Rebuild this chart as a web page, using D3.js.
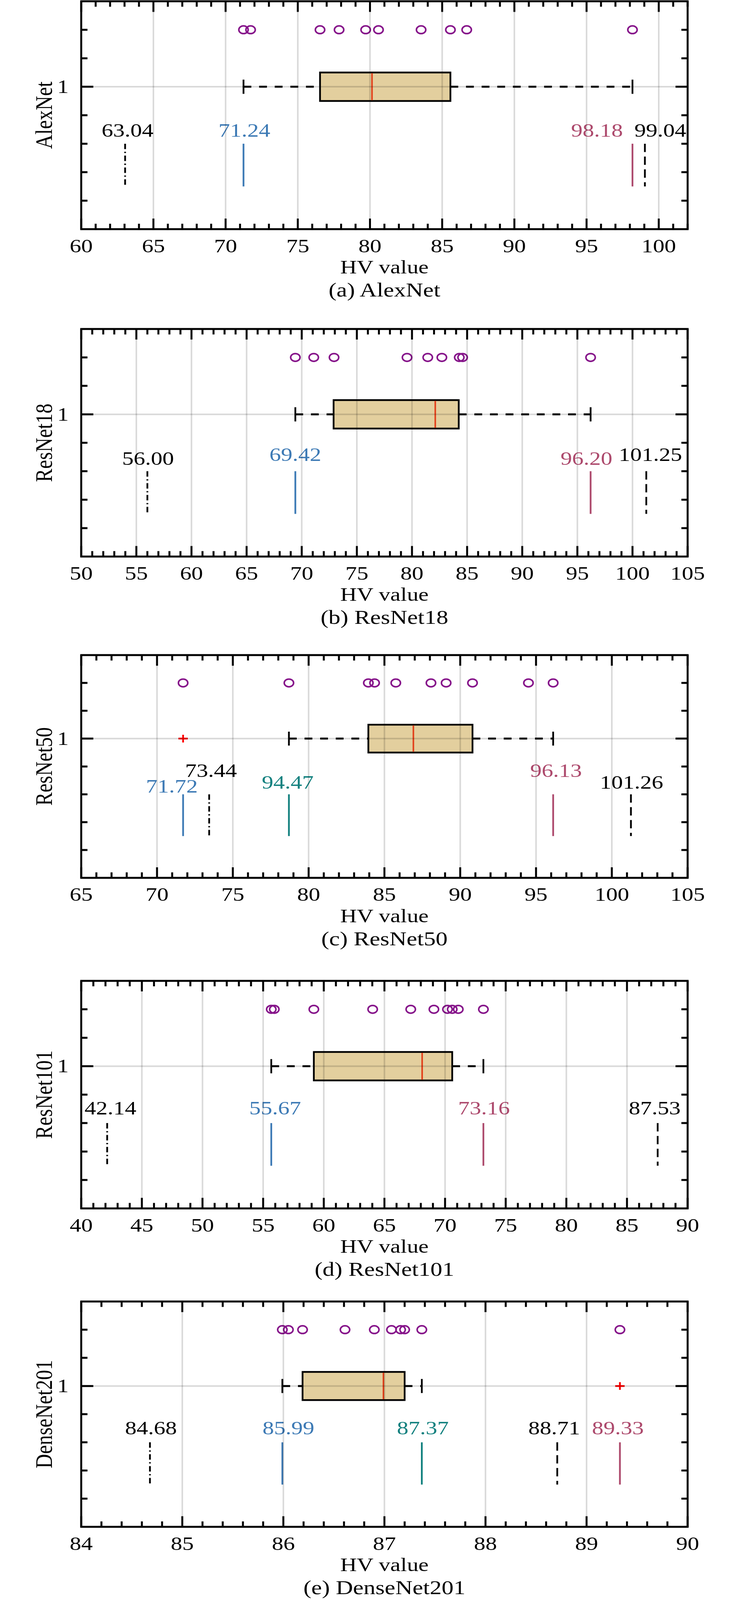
<!DOCTYPE html>
<html>
<head>
<meta charset="utf-8">
<script src="https://cdn.jsdelivr.net/npm/d3@7"></script>
<style>
  html, body { margin: 0; padding: 0; background: #fff; overflow: hidden; }
  svg { display: block; }
</style>
</head>
<body>
<script>
// ---------------- DATA ----------------
const models   = ["AlexNet", "ResNet18", "ResNet50", "ResNet101", "DenseNet201"];
const captions = ["(a) AlexNet", "(b) ResNet18", "(c) ResNet50", "(d) ResNet101", "(e) DenseNet201"];

const xDomains = [[60, 102], [50, 105], [65, 105], [40, 90], [84, 90]];
const xTicks = [
  [60, 65, 70, 75, 80, 85, 90, 95, 100],
  [50, 55, 60, 65, 70, 75, 80, 85, 90, 95, 100, 105],
  [65, 70, 75, 80, 85, 90, 95, 100, 105],
  [40, 45, 50, 55, 60, 65, 70, 75, 80, 85, 90],
  [84, 85, 86, 87, 88, 89, 90]
];
const minorSteps = [1, 1, 1, 1, 0.2];
const yTickValues = [0.6, 0.7, 0.8, 0.9, 1.0, 1.1, 1.2];
const yTickLabels = ["1"];

// individual runs (circles)
const runsAlexNet   = [71.24, 71.73, 76.54, 77.86, 79.70, 80.59, 83.54, 85.57, 86.70, 98.18];
const runsResNet18  = [69.42, 71.09, 72.93, 79.55, 81.43, 82.71, 84.29, 84.59, 96.20];
const runsResNet50  = [71.72, 78.70, 83.94, 84.35, 85.75, 88.07, 89.07, 90.81, 94.50, 96.13];
const runsResNet101 = [55.67, 55.92, 59.18, 64.03, 67.17, 69.08, 70.20, 70.59, 71.09, 73.16];
const runsDense201  = [85.99, 86.05, 86.19, 86.61, 86.90, 87.07, 87.16, 87.20, 87.37, 89.33];
const runs = [runsAlexNet, runsResNet18, runsResNet50, runsResNet101, runsDense201];

// box statistics
const q1s      = [76.54, 72.89, 83.94, 59.18, 86.19];
const medians  = [80.14, 82.11, 86.91, 68.11, 86.99];
const q3s      = [85.57, 84.24, 90.81, 70.59, 87.20];
const whiskLo  = [71.24, 69.42, 78.70, 55.67, 85.99];
const whiskHi  = [98.18, 96.20, 96.13, 73.16, 87.37];
const outliers = [[], [], [71.72], [], [89.33]];

// reference lines
const refValues = [
  [63.04, 71.24, 98.18, 99.04],
  [56.00, 69.42, 96.20, 101.25],
  [71.72, 73.44, 78.70, 96.13, 101.26],
  [42.14, 55.67, 73.16, 87.53],
  [84.68, 85.99, 87.37, 88.71, 89.33]
];
const refTexts = [
  ["63.04", "71.24", "98.18", "99.04"],
  ["56.00", "69.42", "96.20", "101.25"],
  ["71.72", "73.44", "94.47", "96.13", "101.26"],
  ["42.14", "55.67", "73.16", "87.53"],
  ["84.68", "85.99", "87.37", "88.71", "89.33"]
];
const refKinds = [
  ["dashdot", "blue", "pink", "dashed"],
  ["dashdot", "blue", "pink", "dashed"],
  ["blue", "dashdot", "teal", "pink", "dashed"],
  ["dashdot", "blue", "pink", "dashed"],
  ["dashdot", "blue", "teal", "dashed", "pink"]
];
// label anchor positions (data units)
const refLabelX = [
  [63.21, 71.30, 95.72, 100.11],
  [56.06, 69.42, 95.82, 101.62],
  [70.98, 73.56, 78.62, 96.32, 101.30],
  [42.41, 55.99, 73.21, 87.28],
  [84.69, 86.05, 87.38, 88.68, 89.31]
];
const refLabelY = [
  [0.824, 0.824, 0.824, 0.824],
  [0.822, 0.836, 0.822, 0.836],
  [0.806, 0.863, 0.820, 0.863, 0.820],
  [0.831, 0.831, 0.831, 0.831],
  [0.828, 0.828, 0.828, 0.828, 0.828]
];

// ---------------- STYLE / LAYOUT ----------------
// The browser photographs at most 4096 px in height; the reference layout
// (4985 px tall) is mapped vertically into that height.
const W = 1890, REF_H = 4985;
const H = Math.min(window.innerHeight || 4096, REF_H);
const SY = H / REF_H;
const FONT = "'Liberation Serif','Times New Roman',Times,serif";
const FS = 59;            // main font size
const FS_TITLE = 62;      // rotated y title
const panelTops    = [4, 1025, 2041, 3056, 4055];
const panelHeights = [710, 709, 694, 709, 702];
const left = 208, right = 1761;

const kindStyle = {
  dashdot: { color: "#000000", dash: [17, 8, 4, 8] },
  dashed:  { color: "#000000", dash: [26, 14] },
  blue:    { color: "#3d7ab5", dash: null },
  teal:    { color: "#13817f", dash: null },
  pink:    { color: "#ad4a6d", dash: null }
};

const svg = d3.select("body").append("svg")
  .attr("width", W).attr("height", H)
  .attr("viewBox", `0 0 ${W} ${H}`);
svg.append("rect").attr("width", W).attr("height", H).attr("fill", "#fff");

// text helper: glyphs follow the same vertical mapping as the layout
function label(g, x, y, str, opts = {}) {
  const rot = opts.rotate ? ` rotate(${opts.rotate})` : "";
  return g.append("text")
    .attr("transform", `translate(${x},${y}) scale(1,${SY})${rot}`)
    .attr("text-anchor", opts.anchor || "middle")
    .attr("font-family", FONT)
    .attr("font-size", opts.size || FS)
    .attr("fill", opts.color || "#000")
    .text(str);
}

models.forEach((name, i) => {
  const top = panelTops[i] * SY, h = panelHeights[i] * SY, bottom = top + h;
  const x = d3.scaleLinear().domain(xDomains[i]).range([left, right]);
  const y = d3.scaleLinear().domain([0.5, 1.3]).range([bottom, top]);
  const g = svg.append("g");

  // circles (runs)
  g.selectAll(".run").data(runs[i]).join("ellipse")
    .attr("cx", d => x(d)).attr("cy", y(1.2)).attr("rx", 12).attr("ry", 12 * SY)
    .attr("fill", "none").attr("stroke", "#86148a").attr("stroke-width", 4);

  // whiskers
  const wh = [[whiskLo[i], q1s[i]], [q3s[i], whiskHi[i]]];
  g.selectAll(".wh").data(wh).join("line")
    .attr("x1", d => x(d[0])).attr("x2", d => x(d[1]))
    .attr("y1", y(1)).attr("y2", y(1))
    .attr("stroke", "#000").attr("stroke-width", 5)
    .attr("stroke-dasharray", "20,20");
  g.selectAll(".cap").data([whiskLo[i], whiskHi[i]]).join("line")
    .attr("x1", d => x(d)).attr("x2", d => x(d))
    .attr("y1", y(1.025)).attr("y2", y(0.975))
    .attr("stroke", "#000").attr("stroke-width", 4.5);

  // box
  g.append("rect")
    .attr("x", x(q1s[i])).attr("width", x(q3s[i]) - x(q1s[i]))
    .attr("y", y(1.05)).attr("height", y(0.95) - y(1.05))
    .attr("fill", "#e3cf9e").attr("stroke", "#000").attr("stroke-width", 4.5);
  g.append("line")
    .attr("x1", x(medians[i])).attr("x2", x(medians[i]))
    .attr("y1", y(1.05) + 2).attr("y2", y(0.95) - 2)
    .attr("stroke", "#e2401a").attr("stroke-width", 4);

  // outliers (+)
  outliers[i].forEach(o => {
    const ax = 12, ay = 12 * SY;
    g.append("path")
      .attr("d", `M${x(o) - ax},${y(1)}H${x(o) + ax}M${x(o)},${y(1) - ay}V${y(1) + ay}`)
      .attr("stroke", "#ff0000").attr("stroke-width", 4.5).attr("fill", "none");
  });

  // reference lines + labels
  refValues[i].forEach((v, j) => {
    const st = kindStyle[refKinds[i][j]];
    const ln = g.append("line")
      .attr("x1", x(v)).attr("x2", x(v))
      .attr("y1", y(0.8)).attr("y2", y(0.65))
      .attr("stroke", st.color).attr("stroke-width", 4.5);
    if (st.dash) ln.attr("stroke-dasharray", st.dash.map(d => (d * SY).toFixed(2)).join(","));
    label(g, x(refLabelX[i][j]), y(refLabelY[i][j]), refTexts[i][j], { color: st.color });
  });

  // grid (on top, translucent)
  g.selectAll(".vgrid").data(xTicks[i]).join("line")
    .attr("x1", d => x(d)).attr("x2", d => x(d))
    .attr("y1", top).attr("y2", bottom)
    .attr("stroke", "rgba(0,0,0,0.15)").attr("stroke-width", 4);
  g.append("line")
    .attr("x1", left).attr("x2", right).attr("y1", y(1)).attr("y2", y(1))
    .attr("stroke", "rgba(0,0,0,0.15)").attr("stroke-width", 4);

  // ticks
  const dom = xDomains[i];
  const minor = d3.range(dom[0], dom[1] + 1e-9, minorSteps[i])
    .map(v => +v.toFixed(4))
    .filter(v => !xTicks[i].some(t => Math.abs(t - v) < 1e-6));
  const majLen = 33 * SY, minLen = 17 * SY;
  const tickPath = [];
  xTicks[i].forEach(t => {
    tickPath.push(`M${x(t)},${top}v${majLen}`, `M${x(t)},${bottom}v${-majLen}`);
  });
  minor.forEach(t => {
    tickPath.push(`M${x(t)},${top}v${minLen}`, `M${x(t)},${bottom}v${-minLen}`);
  });
  yTickValues.forEach(t => {
    const len = Math.abs(t - 1) < 1e-6 ? 31 : 16;
    tickPath.push(`M${left},${y(t)}h${len}`, `M${right},${y(t)}h${-len}`);
  });
  g.append("path").attr("d", tickPath.join("")).attr("stroke", "#000")
    .attr("stroke-width", 5).attr("fill", "none");

  // border
  g.append("rect").attr("x", left).attr("y", top)
    .attr("width", right - left).attr("height", h)
    .attr("fill", "none").attr("stroke", "#000").attr("stroke-width", 5);

  // tick labels
  xTicks[i].forEach(t => label(g, x(t), bottom + 72 * SY, String(t)));
  label(g, 176, y(1) + FS * 0.33 * SY, yTickLabels[0], { anchor: "end" });

  // axis titles
  label(g, 133, top + h / 2, name, { rotate: -90, size: FS_TITLE });
  label(g, (left + right) / 2, bottom + 138 * SY, "HV value");
  label(g, (left + right) / 2, bottom + 210 * SY, captions[i], { size: 61 });
});
</script>
</body>
</html>
